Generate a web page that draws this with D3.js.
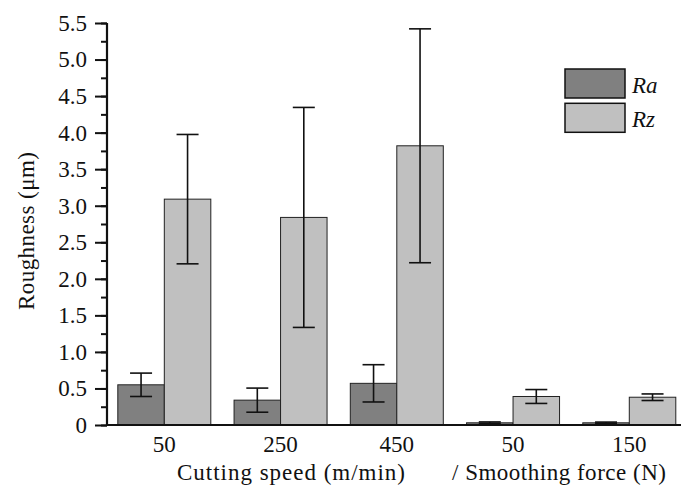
<!DOCTYPE html>
<html>
<head>
<meta charset="utf-8">
<script src="https://cdn.jsdelivr.net/npm/d3@7"></script>
<style>
  html, body { margin: 0; padding: 0; background: #fff; }
  svg { display: block; }
  text { font-family: "Liberation Serif", "DejaVu Serif", serif; fill: #111; }
</style>
</head>
<body>
<svg id="chart" width="681" height="486"></svg>
<script>
// ---- data ----
const categories = ["50", "250", "450", "50", "150"];
const seriesNames = ["Ra", "Rz"];
const raValues = [0.55, 0.34, 0.57, 0.03, 0.03];
const raErrors = [0.16, 0.165, 0.255, 0.012, 0.01];
const rzValues = [3.09, 2.84, 3.82, 0.39, 0.38];
const rzErrors = [0.885, 1.505, 1.60, 0.095, 0.045];
const yTicks = [0, 0.5, 1.0, 1.5, 2.0, 2.5, 3.0, 3.5, 4.0, 4.5, 5.0, 5.5];
const xTitleLeft = "Cutting speed (m/min)";
const xTitleRight = "/ Smoothing force (N)";
const yTitle = "Roughness (\u03bcm)";
const colors = { Ra: "#808080", Rz: "#c0c0c0" };

const svg = d3.select("#chart");
const pLeft = 107, pRight = 686.6, pTop = 23, pBottom = 425;
const fs = "23px";

const ids = categories.map((c, i) => i);
const x = d3.scaleBand().domain(ids).range([pLeft, pRight]).paddingInner(0.2).paddingOuter(0.093);
const xs = d3.scaleBand().domain(seriesNames).range([0, x.bandwidth()]).padding(0);
const y = d3.scaleLinear().domain([0, 5.5]).range([pBottom, pTop]);

const rows = [];
ids.forEach(i => {
  rows.push({ i, s: "Ra", v: raValues[i], e: raErrors[i] });
  rows.push({ i, s: "Rz", v: rzValues[i], e: rzErrors[i] });
});

// bars
svg.append("g").selectAll("rect").data(rows).join("rect")
  .attr("x", d => x(d.i) + xs(d.s))
  .attr("y", d => y(d.v))
  .attr("width", xs.bandwidth())
  .attr("height", d => y(0) - y(d.v))
  .attr("fill", d => colors[d.s])
  .attr("stroke", "#222")
  .attr("stroke-width", 1);

// error bars
const eg = svg.append("g").attr("stroke", "#111").attr("stroke-width", 1.6);
rows.filter(d => d.e > 0).forEach(d => {
  const cx = x(d.i) + xs(d.s) + xs.bandwidth() / 2;
  const y1 = y(d.v + d.e), y2 = y(d.v - d.e);
  eg.append("line").attr("x1", cx).attr("x2", cx).attr("y1", y1).attr("y2", y2);
  eg.append("line").attr("x1", cx - 11).attr("x2", cx + 11).attr("y1", y1).attr("y2", y1);
  eg.append("line").attr("x1", cx - 11).attr("x2", cx + 11).attr("y1", y2).attr("y2", y2);
});

// y axis: minor ticks
const minor = d3.range(0, 5.5001, 0.25);
svg.append("g").attr("transform", `translate(${pLeft},0)`)
  .call(d3.axisLeft(y).tickValues(minor).tickSize(6).tickFormat(""))
  .call(g => g.select(".domain").remove())
  .selectAll("line").attr("stroke", "#111").attr("stroke-width", 2);

// y axis: major ticks
const yAxis = svg.append("g").attr("transform", `translate(${pLeft},0)`)
  .call(d3.axisLeft(y).tickValues(yTicks).tickSize(12).tickPadding(8)
    .tickFormat(d => d === 0 ? "0" : d3.format(".1f")(d)));
yAxis.select(".domain").attr("stroke", "#111").attr("stroke-width", 2.2)
  .attr("d", `M0,${pBottom + 1}V${pTop}`);
yAxis.selectAll("line").attr("stroke", "#111").attr("stroke-width", 2);
yAxis.selectAll("text").style("font-size", fs).attr("fill", "#111");

// x axis
const xAxis = svg.append("g").attr("transform", `translate(0,${pBottom})`)
  .call(d3.axisBottom(x).tickSize(0).tickPadding(11).tickFormat(i => categories[i]));
xAxis.select(".domain").attr("stroke", "#111").attr("stroke-width", 2.2)
  .attr("d", `M${pLeft - 1},0H${pRight}`);
xAxis.selectAll("text").style("font-size", fs).attr("fill", "#111");

// axis titles
svg.append("text").attr("x", 177).attr("y", 480).style("font-size", fs)
  .attr("textLength", 228).attr("lengthAdjust", "spacing").text(xTitleLeft);
svg.append("text").attr("x", 452).attr("y", 480).style("font-size", fs)
  .attr("textLength", 214).attr("lengthAdjust", "spacing").text(xTitleRight);
svg.append("text").attr("transform", `translate(34,231) rotate(-90)`)
  .attr("text-anchor", "middle").style("font-size", fs)
  .attr("textLength", 158).attr("lengthAdjust", "spacing").text(yTitle);

// legend
const lg = svg.append("g");
seriesNames.forEach((s, k) => {
  lg.append("rect").attr("x", 565).attr("y", 69 + k * 34.3).attr("width", 60).attr("height", 29)
    .attr("fill", colors[s]).attr("stroke", "#111").attr("stroke-width", 1.5);
  lg.append("text").attr("x", 632).attr("y", 93 + k * 34.3).style("font-size", fs)
    .style("font-style", "italic").text(s);
});
</script>
</body>
</html>
